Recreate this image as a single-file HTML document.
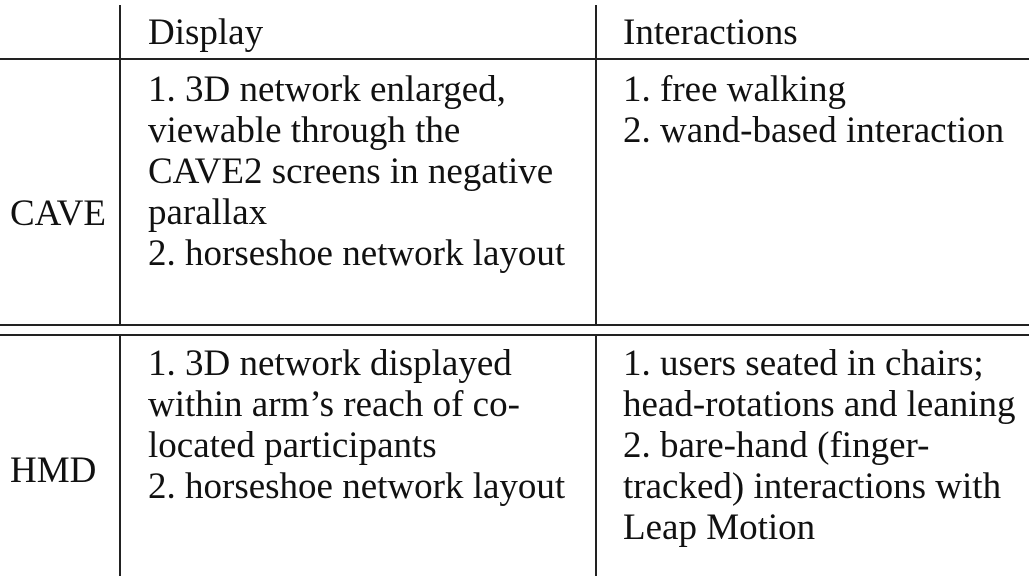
<!DOCTYPE html>
<html><head><meta charset="utf-8"><style>
body{margin:0;width:1029px;height:581px;background:#fff;position:relative;overflow:hidden;font-family:"Liberation Serif",serif;font-size:37px;color:#111}
.l{position:absolute;background:#222}
.t{position:absolute;white-space:nowrap;line-height:41px}
</style></head><body>
<div class="l" style="left:119px;top:5px;width:2px;height:320px"></div>
<div class="l" style="left:595px;top:5px;width:2px;height:320px"></div>
<div class="l" style="left:119px;top:335px;width:2px;height:241px"></div>
<div class="l" style="left:595px;top:335px;width:2px;height:241px"></div>
<div class="l" style="left:0;top:58px;width:1029px;height:2px"></div>
<div class="l" style="left:0;top:324px;width:1029px;height:2px"></div>
<div class="l" style="left:0;top:334px;width:1029px;height:2px"></div>

<div class="t" style="left:148px;top:12px">Display</div>
<div class="t" style="left:623px;top:12px">Interactions</div>

<div class="t" style="left:10px;top:193px">CAVE</div>
<div class="t" style="left:148px;top:69px">1. 3D network enlarged,<br>viewable through the<br>CAVE2 screens in negative<br>parallax<br>2. horseshoe network layout</div>
<div class="t" style="left:623px;top:69px">1. free walking<br>2. wand-based interaction</div>

<div class="t" style="left:10px;top:450px">HMD</div>
<div class="t" style="left:148px;top:343px">1. 3D network displayed<br>within arm’s reach of co-<br>located participants<br>2. horseshoe network layout</div>
<div class="t" style="left:623px;top:343px">1. users seated in chairs;<br>head-rotations and leaning<br>2. bare-hand (finger-<br>tracked) interactions with<br>Leap Motion</div>
</body></html>
